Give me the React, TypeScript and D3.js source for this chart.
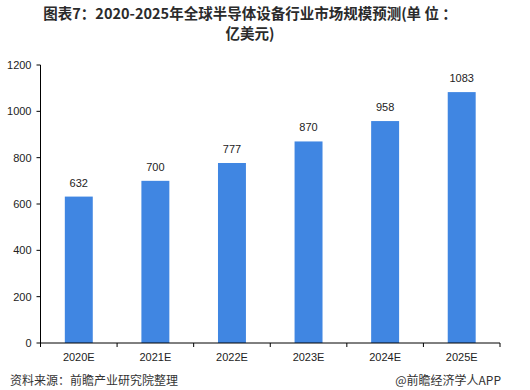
import React from 'react';
import * as d3 from 'd3';

// chart data
const years = ['2020E', '2021E', '2022E', '2023E', '2024E', '2025E'];
const marketSize = [632, 700, 777, 870, 958, 1083];
const yTicks = [0, 200, 400, 600, 800, 1000, 1200];

const titleLines = ['图表7：2020-2025年全球半导体设备行业市场规模预测(单 位 ：', '亿美元)'];
const sourceText = '资料来源：前瞻产业研究院整理';
const brandText = '@前瞻经济学人APP';

const W = 530;
const H = 390;
const margin = { top: 65, right: 30, bottom: 47, left: 40.5 };
const barColor = '#4086e2';
const labelFont = '"Liberation Sans", Arial, sans-serif';
const cjkFont = '"Noto Sans CJK SC", "Noto Sans", sans-serif';

const App = () => {
    const innerW = W - margin.left - margin.right;
    const innerH = H - margin.top - margin.bottom;

    // x scale (years)
    const x = d3.scaleBand()
        .domain(years)
        .range([0, innerW])
        .paddingInner(0.635)
        .paddingOuter(0.3175);

    // y scale (market size)
    const y = d3.scaleLinear()
        .domain([0, 1200])
        .range([innerH, 0]);

    const step = x.step();

    return (
        <svg width={W} height={H} style={{ position: 'absolute', left: 0, top: 0, background: '#fff' }}>
            {/* title */}
            {titleLines.map((t, i) => (
                <text key={i} x={250} y={19 + i * 20} textAnchor="middle"
                    fontFamily={cjkFont} fontWeight="bold" fontSize={14.5} fill="#2b2b2b"
                    style={{ whiteSpace: 'pre' }}>
                    {t}
                </text>
            ))}

            <g transform={`translate(${margin.left},${margin.top})`}>
                {/* bars */}
                {years.map((yr, i) => (
                    <rect key={yr}
                        x={x(yr)}
                        y={y(marketSize[i])}
                        width={x.bandwidth()}
                        height={innerH - y(marketSize[i])}
                        fill={barColor} />
                ))}

                {/* value labels */}
                {years.map((yr, i) => (
                    <text key={yr}
                        x={(x(yr) ?? 0) + x.bandwidth() / 2}
                        y={y(marketSize[i]) - 10}
                        textAnchor="middle"
                        fontFamily={labelFont}
                        fontSize={11}
                        fill="#222">
                        {marketSize[i]}
                    </text>
                ))}

                {/* y axis */}
                <line x1={0} x2={0} y1={0} y2={innerH} stroke="#000" strokeWidth={1} />
                {yTicks.map(t => (
                    <g key={t} transform={`translate(0,${y(t)})`}>
                        <line x1={-4} x2={0} stroke="#000" />
                        <text x={-9} dy="0.35em" textAnchor="end" fontFamily={labelFont} fontSize={11} fill="#222">
                            {t}
                        </text>
                    </g>
                ))}

                {/* x axis */}
                <line x1={0} x2={innerW} y1={innerH} y2={innerH} stroke="#000" />
                {d3.range(years.length + 1).map(i => (
                    <line key={i} x1={i * step} x2={i * step} y1={innerH} y2={innerH + 4} stroke="#000" />
                ))}
                {years.map(yr => (
                    <text key={yr}
                        x={(x(yr) ?? 0) + x.bandwidth() / 2}
                        y={innerH + 18}
                        textAnchor="middle"
                        fontFamily={labelFont}
                        fontSize={11}
                        fill="#222">
                        {yr}
                    </text>
                ))}
            </g>

            {/* footer */}
            <text x={10} y={385} fontFamily={cjkFont} fontSize={12} fill="#333">{sourceText}</text>
            <text x={501} y={385} textAnchor="end" fontFamily={cjkFont} fontSize={12} fill="#333">{brandText}</text>
        </svg>
    );
};

export default App;
